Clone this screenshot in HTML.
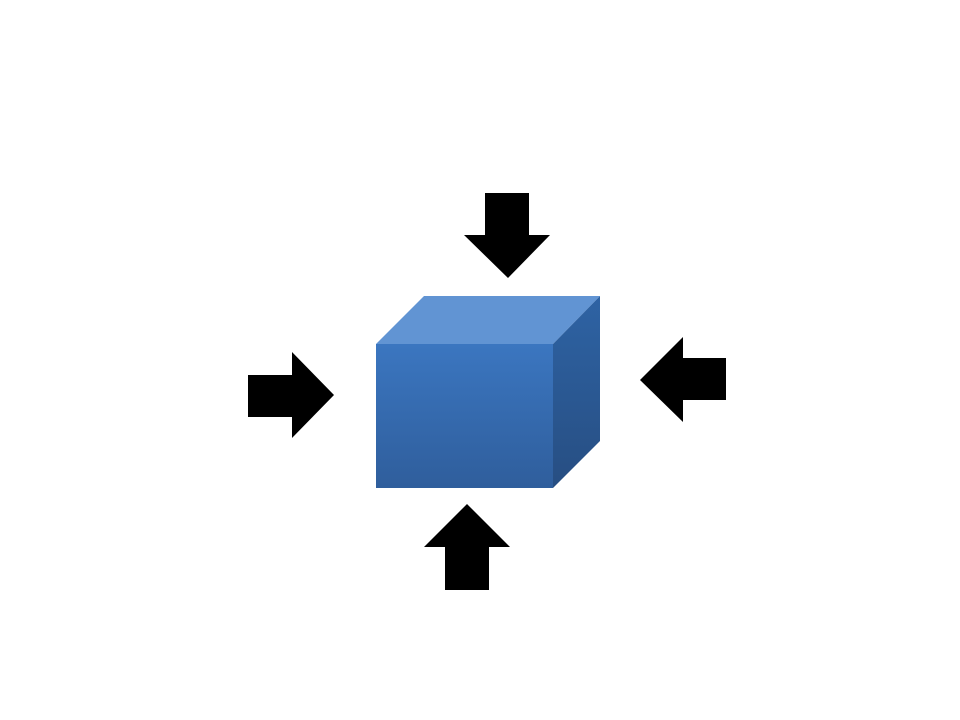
<!DOCTYPE html>
<html><head><meta charset="utf-8"><style>html,body{margin:0;padding:0;background:#fff;}svg{display:block}</style></head>
<body>
<svg width="960" height="720" viewBox="0 0 960 720" xmlns="http://www.w3.org/2000/svg">
<defs>
<linearGradient id="fr" x1="0" y1="0" x2="0" y2="1"><stop offset="0" stop-color="#3b76c0"/><stop offset="1" stop-color="#2f5e9c"/></linearGradient>
<linearGradient id="rt" x1="0" y1="0" x2="0" y2="1"><stop offset="0" stop-color="#2e63a4"/><stop offset="1" stop-color="#274e82"/></linearGradient>
</defs>
<polygon points="376,344 424,296 600,296 553,344" fill="#6194d3"/>
<polygon points="553,344 600,296 600,441 553,488" fill="url(#rt)"/>
<rect x="376" y="344" width="177" height="144" fill="url(#fr)"/>
<g fill="#000">
<polygon points="485,193 529,193 529,235 550,235 508,278 464,235 485,235"/>
<polygon points="248,375 292,375 292,352 334,395 292,438 292,417 248,417"/>
<polygon points="726,358 683,358 683,337 640,380 683,422 683,400 726,400"/>
<polygon points="445,590 489,590 489,547 510,547 467,504 424,547 445,547"/>
</g>
</svg>
</body></html>
